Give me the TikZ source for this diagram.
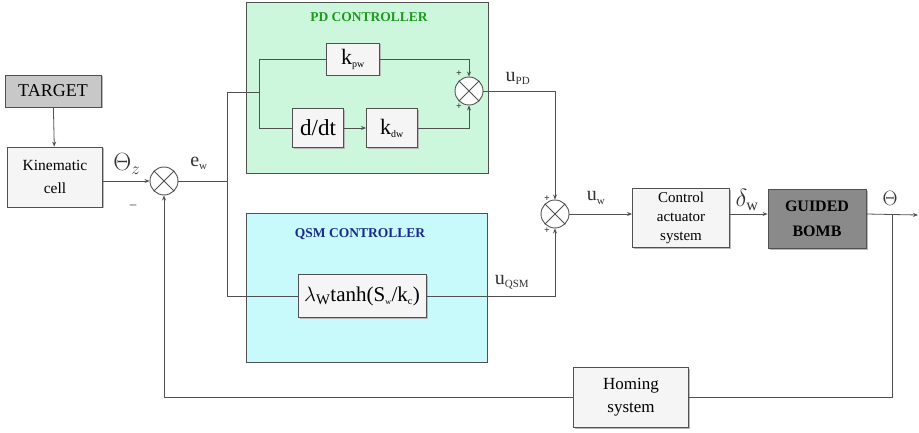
\documentclass[tikz,border=0pt]{standalone}
\usepackage{fontspec}
\setmainfont{Liberation Serif}
\usetikzlibrary{shadows,arrows.meta}
\newcommand{\fsz}[1]{\fontsize{#1}{#1}\selectfont}
\newcommand{\fsb}[2]{\fontsize{#1}{#2}\selectfont}
\definecolor{lineC}{HTML}{505050}
\definecolor{boxF}{HTML}{F5F5F5}
\definecolor{pdF}{HTML}{CCF7DC}
\definecolor{qsmF}{HTML}{C8FAFC}
\definecolor{pdT}{HTML}{1E9A1E}
\definecolor{qsmT}{HTML}{1A2A8A}
\definecolor{tgtF}{HTML}{C8C8C8}
\definecolor{bombF}{HTML}{8A8A8A}
\tikzset{
  blk/.style={draw=lineC, line width=0.9pt, fill=boxF, align=center, inner sep=1pt,
    drop shadow={shadow xshift=1.5pt, shadow yshift=-1.5pt, fill=gray!55, opacity=1}},
  grp/.style={draw=lineC, line width=0.8pt},
  sumn/.style={circle, draw=lineC, line width=0.9pt, fill=white, minimum size=28pt, inner sep=0pt},
  conn/.style={draw=lineC, line width=0.8pt},
  arr/.style={conn, -{Stealth[length=5pt,width=4pt]}},
  lbl/.style={inner sep=0pt, text=black!80}
}
\begin{document}
\begin{tikzpicture}[x=1pt,y=-1pt]
\useasboundingbox (0,0) rectangle (919,433);
% group boxes
\node[grp, fill=pdF, minimum width=242pt, minimum height=171pt, inner sep=0pt] (pd) at (367,87.5) {};
\node[grp, fill=qsmF, minimum width=241pt, minimum height=149pt, inner sep=0pt] (qsm) at (366.5,287.5) {};
\node[lbl, text=pdT, font=\bfseries\fsz{13.5}] (pdt) at (369,17) {PD CONTROLLER};
\node[lbl, text=qsmT, font=\bfseries\fsz{13.5}] (qsmt) at (360,234) {QSM CONTROLLER};
% blocks
\node[blk, fill=tgtF, minimum width=96pt, minimum height=32pt, font=\fsz{18}] (tgt) at (53,91) {TARGET};
\node[blk, minimum width=95pt, minimum height=60pt, font=\fsb{15.5}{23}] (kin) at (55,177) {Kinematic\\cell};
\node[blk, minimum width=53pt, minimum height=32pt, font=\fsz{22}] (kpw) at (353,59) {k\textsubscript{\fsz{10}pw}};
\node[blk, minimum width=51pt, minimum height=39pt, font=\fsz{23}] (ddt) at (318,128) {d/dt};
\node[blk, minimum width=51pt, minimum height=39pt, font=\fsz{22}] (kdw) at (392,128) {k\textsubscript{\fsz{10}dw}};
\node[blk, minimum width=128pt, minimum height=43pt, font=\fsz{21}] (lam) at (362,296) {$\lambda_{\mathrm{W}}$tanh(S\textsubscript{\fsz{8}w}/k\textsubscript{\fsz{10}c})};
\node[blk, minimum width=97pt, minimum height=59pt, font=\fsb{15}{19}] (ctrl) at (681,218) {Control\\actuator\\system};
\node[blk, fill=bombF, minimum width=98pt, minimum height=59pt, font=\bfseries\fsb{16}{25}] (bomb) at (817,219) {GUIDED\\BOMB};
\node[blk, minimum width=115pt, minimum height=60pt, font=\fsb{17}{23}] (hom) at (631,397) {Homing\\system};
% summing junctions
\node[sumn] (s1) at (164,181) {};
\node[sumn] (s2) at (469,91) {};
\node[sumn] (s3) at (555,214) {};
\foreach \s in {s1,s2,s3}{
  \draw[conn] (\s.north west) -- (\s.south east);
  \draw[conn] (\s.north east) -- (\s.south west);
}
% coordinates
\coordinate (ew) at (227,181);
\coordinate (ewtop) at (227,92);
\coordinate (splt) at (259,92);
\coordinate (ewbot) at (227,296);
\coordinate (brn) at (892,215);
\coordinate (outp) at (918,215);
% connectors
\draw[arr] (tgt) -- (kin);
\draw[arr] (kin.east |- s1) -- (s1);
\draw[conn] (s1) -- (ew);
\draw[conn] (ewtop) -- (ewbot) -- (lam.west |- ewbot);
\draw[conn] (ewtop) -- (splt);
\draw[conn] (splt |- kpw) -- (splt |- ddt);
\draw[conn] (splt |- kpw) -- (kpw);
\draw[conn] (splt |- ddt) -- (ddt);
\draw[arr] (ddt) -- (kdw);
\draw[arr] (kpw) -| (s2.north);
\draw[arr] (kdw) -| (s2.south);
\draw[arr] (s2) -| (s3.north);
\draw[arr] (lam) -| (s3.south);
\draw[arr] (s3.east) -- (ctrl.west |- s3.east);
\draw[arr] (ctrl.east |- s3.east) -- (bomb.west |- s3.east);
\draw[arr] (bomb.east |- s3.east) -- (outp);
\draw[conn] (brn) |- (hom.east);
\draw[arr] (hom.west) -| (s1.south);
% signs
\node[lbl, font=\bfseries\fsz{10}] (p1) at (459,74) {+};
\node[lbl, font=\bfseries\fsz{10}] (p2) at (459,107) {+};
\node[lbl, font=\bfseries\fsz{10}] (p3) at (547,199) {+};
\node[lbl, font=\bfseries\fsz{10}] (p4) at (547,231) {+};
\node[lbl, font=\fsz{13}] (m1) at (133,207) {\textendash};
% labels
\node[lbl, font=\fsz{23}] (thz) at (127,164) {$\Theta_{z}$};
\node[lbl, font=\fsz{20}] (ewl) at (199,163) {e\textsubscript{\fsz{11}w}};
\node[lbl, font=\fsz{20}] (upd) at (518,78) {u\textsubscript{\fsz{11}PD}};
\node[lbl, font=\fsz{20}] (uqsm) at (512,282) {u\textsubscript{\fsz{11}QSM}};
\node[lbl, font=\fsz{20}] (uw) at (596,198) {u\textsubscript{\fsz{11}w}};
\node[lbl, font=\fsz{23}] (dw) at (747,200) {$\delta_{\mathrm{w}}$};
\node[lbl, font=\fsz{22}] (th) at (890,198) {$\Theta$};
\end{tikzpicture}
\end{document}
